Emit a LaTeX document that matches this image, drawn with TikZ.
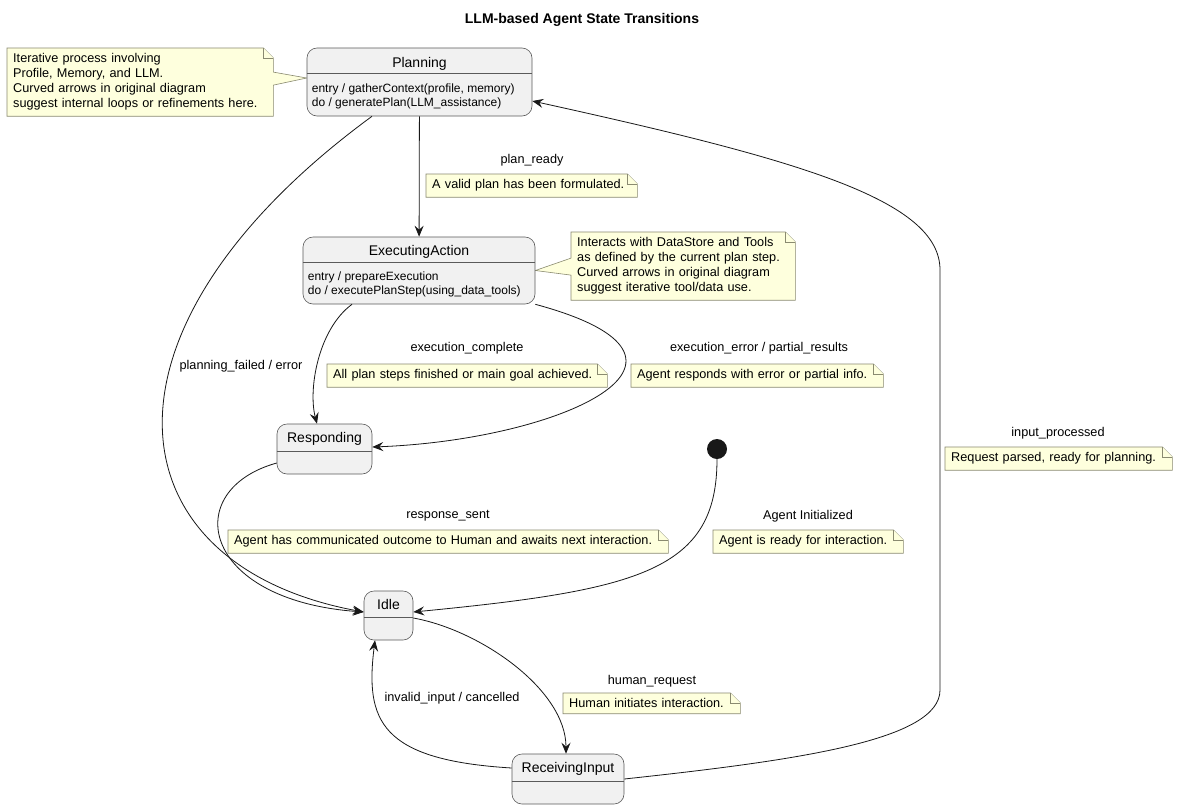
\documentclass[tikz,border=0pt]{standalone}
\usepackage{fontspec}
\setmainfont{Liberation Sans}
\usetikzlibrary{arrows.meta,positioning,backgrounds}
\definecolor{statefill}{HTML}{F1F1F1}
\definecolor{stateline}{HTML}{5A5A5A}
\definecolor{notefill}{HTML}{FEFFDD}
\definecolor{noteline}{HTML}{8A8A70}
\definecolor{wire}{HTML}{181818}
\begin{document}
\begin{tikzpicture}[x=1pt, y=-1pt,
    >={Stealth[length=11pt,width=9pt,inset=4pt]},
    statebox/.style={draw=stateline, fill=statefill, rounded corners=10pt, line width=0.6pt, inner sep=0pt},
    statename/.style={font=\fontsize{14}{16}\selectfont, inner sep=0pt},
    divider/.style={draw=stateline, line width=0.6pt},
    entry/.style={font=\fontsize{12}{13.5}\selectfont, align=left, inner sep=0pt, anchor=west},
    notebox/.style={font=\fontsize{12.7}{15}\selectfont, align=left, inner xsep=6pt, inner ysep=5.5pt,
      anchor=north west, text width=#1-12pt},
    notepaper/.style={draw=noteline, fill=notefill, line width=0.6pt},
    trlabel/.style={font=\fontsize{12.7}{15}\selectfont, inner sep=0pt},
    trans/.style={draw=wire, line width=0.8pt, ->}]
   \useasboundingbox (0,0) rectangle (1178,809);
   \node[font=\bfseries\fontsize{14}{16}\selectfont] (title) at (582,20) {LLM-based Agent State Transitions};

   % states
   \node[statebox, minimum width=225pt, minimum height=68pt] (Planning) at (419.5,82) {};
   \node[statename] (PlanningName) at ([yshift=-16pt]Planning.north) {Planning};
   \draw[divider] ([yshift=-26pt]Planning.north west) -- ([yshift=-26pt]Planning.north east);
   \node[entry] (PlanningDo) at ([xshift=5pt,yshift=-48.5pt]Planning.north west) {entry / gatherContext(profile, memory)\\do / generatePlan(LLM\_assistance)};

   \node[statebox, minimum width=232pt, minimum height=67pt] (ExecutingAction) at (419,270.5) {};
   \node[statename] (ExecutingActionName) at ([yshift=-15pt]ExecutingAction.north) {ExecutingAction};
   \draw[divider] ([yshift=-26pt]ExecutingAction.north west) -- ([yshift=-26pt]ExecutingAction.north east);
   \node[entry] (ExecutingActionDo) at ([xshift=5pt,yshift=-47.5pt]ExecutingAction.north west) {entry / prepareExecution\\do / executePlanStep(using\_data\_tools)};

   \node[statebox, minimum width=95pt, minimum height=50pt] (Responding) at (324.5,449) {};
   \node[statename] (RespondingName) at ([yshift=-15pt]Responding.north) {Responding};
   \draw[divider] ([yshift=-28pt]Responding.north west) -- ([yshift=-28pt]Responding.north east);

   \node[statebox, minimum width=49pt, minimum height=49pt] (Idle) at (388.5,615.5) {};
   \node[statename] (IdleName) at ([yshift=-14pt]Idle.north) {Idle};
   \draw[divider] ([yshift=-27pt]Idle.north west) -- ([yshift=-27pt]Idle.north east);

   \node[statebox, minimum width=112pt, minimum height=50pt] (ReceivingInput) at (568,779) {};
   \node[statename] (ReceivingInputName) at ([yshift=-15pt]ReceivingInput.north) {ReceivingInput};
   \draw[divider] ([yshift=-28pt]ReceivingInput.north west) -- ([yshift=-28pt]ReceivingInput.north east);

   \node[circle, fill=wire, minimum size=20pt, inner sep=0pt] (init) at (717,449) {};

   % notes
   \node[notebox=266pt] (planNote) at (7,48) {Iterative process involving\\Profile, Memory, and LLM.\\Curved arrows in original diagram\\suggest internal loops or refinements here.};
   \node[notebox=224pt] (execNote) at (571,232) {Interacts with DataStore and Tools\\as defined by the current plan step.\\Curved arrows in original diagram\\suggest iterative tool/data use.};
   \node[notebox=211pt] (readyNote) at (426,174) {A valid plan has been formulated.};
   \node[notebox=280pt] (completeNote) at (327,364) {All plan steps finished or main goal achieved.};
   \node[notebox=252pt] (errorNote) at (631,364) {Agent responds with error or partial info.};
   \node[notebox=227pt] (inputNote) at (945,447) {Request parsed, ready for planning.};
   \node[notebox=440pt] (responseNote) at (228,530) {Agent has communicated outcome to Human and awaits next interaction.};
   \node[notebox=190pt] (initNote) at (713,530) {Agent is ready for interaction.};
   \node[notebox=177pt] (humanNote) at (563,693) {Human initiates interaction.};

   \begin{pgfonlayer}{background}
   \fill[white] (0,0) rectangle (1178,809);
   \draw[notepaper] (planNote.north west) -- ([xshift=-10pt]planNote.north east) -- ([yshift=-10pt]planNote.north east)
      -- ([yshift=10pt]planNote.east) -- ([yshift=4pt]Planning.west) -- ([yshift=-3pt]planNote.east)
      -- (planNote.south east) -- (planNote.south west) -- cycle;
   \draw[notepaper] (execNote.north west) -- ([xshift=-10pt]execNote.north east) -- ([yshift=-10pt]execNote.north east)
      -- (execNote.south east) -- (execNote.south west) -- ([yshift=-9pt]execNote.west)
      -- (ExecutingAction.east) -- ([yshift=8pt]execNote.west) -- cycle;
   \foreach \n in {readyNote, completeNote, errorNote, inputNote, responseNote, initNote, humanNote}
     \draw[notepaper] (\n.north west) -- ([xshift=-10pt]\n.north east) -- ([yshift=-10pt]\n.north east)
        -- (\n.south east) -- (\n.south west) -- cycle;
   \foreach \n in {planNote, execNote, readyNote, completeNote, errorNote, inputNote, responseNote, initNote, humanNote}
     \draw[notepaper] ([xshift=-10pt]\n.north east) -- ([xshift=-10pt,yshift=-10pt]\n.north east) -- ([yshift=-10pt]\n.north east);
   \end{pgfonlayer}

   % transition labels
   \node[trlabel] (readyLabel) at (532,160) {plan\_ready};
   \node[trlabel] (failedLabel) at (241,366) {planning\_failed / error};
   \node[trlabel] (completeLabel) at (467,348) {execution\_complete};
   \node[trlabel] (errorLabel) at (759,348) {execution\_error / partial\_results};
   \node[trlabel] (inputLabel) at (1058,433) {input\_processed};
   \node[trlabel] (sentLabel) at (448,516) {response\_sent};
   \node[trlabel] (initLabel) at (808,516) {Agent Initialized};
   \node[trlabel] (humanLabel) at (652,681) {human\_request};
   \node[trlabel] (invalidLabel) at (452,698) {invalid\_input / cancelled};

   % transitions
   \coordinate (riseLow) at (940,690);
   \coordinate (riseHigh) at (940,270);
   \draw[trans] (Planning) -- (ExecutingAction);
   \draw[trans] ([xshift=-47.5pt]Planning.south) .. controls +(-292,214) and +(-254,-47) .. ([yshift=3.5pt]Idle.west);
   \draw[trans] ([xshift=-67pt]ExecutingAction.south) .. controls +(-34,25) and +(-9,-34) .. ([xshift=-7.5pt]Responding.north);
   \draw[trans] (ExecutingAction.south east) .. controls +(204,55) and +(188,-7) .. ([yshift=2pt]Responding.east);
   \draw[trans] ([yshift=-14pt]Responding.west) .. controls +(-97,27) and +(-164,-12) .. ([yshift=3.5pt]Idle.west);
   \draw[trans] (init.south) .. controls +(0,111) and +(227,-22) .. ([yshift=3.5pt]Idle.east);
   \draw[trans] ([yshift=-2.5pt]Idle.east) .. controls +(67,12) and +(0,-64) .. ([xshift=-2pt]ReceivingInput.north);
   \draw[trans] ([yshift=11pt]ReceivingInput.west) .. controls +(-132,-8) and +(-10,80) .. ([xshift=-13.5pt]Idle.south);
   \draw[trans] (ReceivingInput.east) .. controls +(176,-19) and +(0,50) .. (riseLow) -- (riseHigh)
      .. controls +(0,-70) and +(268,59) .. ([yshift=-19pt]Planning.east);
 \end{tikzpicture}
\end{document}
